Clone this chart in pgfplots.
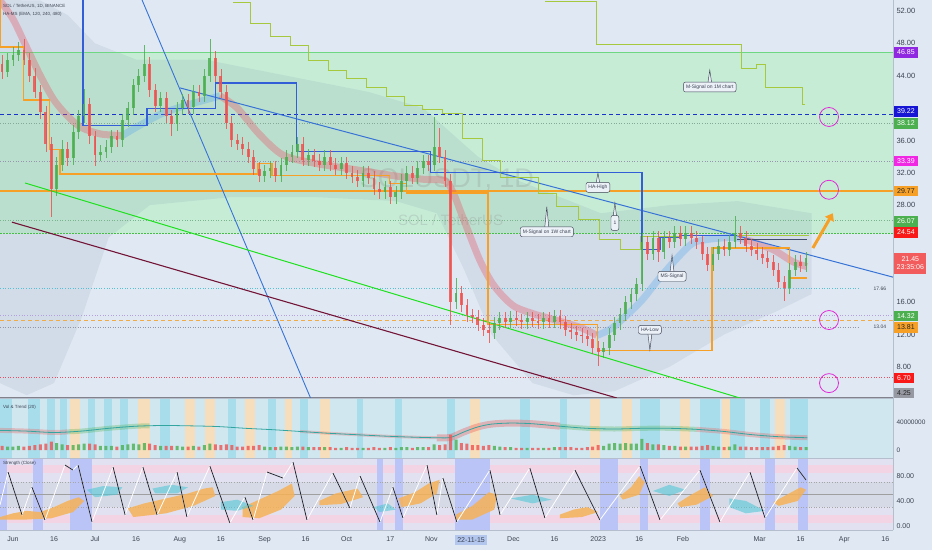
\documentclass[border=0pt]{standalone}
\usepackage{fontspec}
\setmainfont{Liberation Sans}
\usepackage{pgfplots}
\pgfplotsset{compat=1.18}
\usepackage{pgfplotstable}
\usetikzlibrary{arrows.meta}

\newcommand\fs[1]{\fontsize{#1}{#1}\selectfont}

\definecolor{bg}{RGB}{224,233,243}
\definecolor{zone}{RGB}{198,236,214}
\definecolor{cloud}{RGB}{110,130,155}
\definecolor{upc}{RGB}{76,175,80}
\definecolor{dnc}{RGB}{239,83,80}
\definecolor{hablue}{RGB}{50,95,215}
\definecolor{haor}{RGB}{246,160,40}
\definecolor{olive}{RGB}{165,200,60}
\definecolor{tline}{RGB}{55,115,215}
\definecolor{gline}{RGB}{30,225,30}
\definecolor{mline}{RGB}{115,20,55}
\definecolor{emared}{RGB}{232,85,100}
\definecolor{emablue}{RGB}{95,170,235}
\definecolor{lab}{RGB}{60,66,82}
\definecolor{sep}{RGB}{180,190,205}
\definecolor{cbg}{RGB}{236,241,247}
\definecolor{volbg}{RGB}{208,231,240}
\definecolor{volcy}{RGB}{168,222,236}
\definecolor{volor}{RGB}{246,222,188}
\definecolor{stbg}{RGB}{226,225,241}
\definecolor{stpink}{RGB}{242,212,228}
\definecolor{stmid}{RGB}{214,218,231}
\definecolor{stblue}{RGB}{186,196,246}
\definecolor{sor}{RGB}{245,178,88}
\definecolor{scy}{RGB}{85,200,215}
\definecolor{hl}{RGB}{178,198,238}
\definecolor{pmag}{RGB}{225,40,215}

% day (0 = 2022-06-01), open, high, low, close, volume (millions)
\pgfplotstableread{
d o h l c v
-4 45.5 46.6 43.6 44.5 6
-2 44.5 46.8 43.8 46.0 5
0 46.0 47.6 45.2 46.5 5
2 46.5 48.2 45.8 47.2 6
4 47.2 48.5 45.3 46.0 5
6 46.0 46.8 43.2 44.0 6
8 44.0 44.9 41.2 42.0 7
10 42.0 42.8 38.6 39.5 8
12 39.5 40.3 34.6 35.5 9
14 35.5 36.4 26.5 30.0 12
16 30.0 33.9 29.1 33.0 10
18 33.0 36.0 32.2 35.0 8
20 35.0 35.8 32.9 33.8 7
22 33.8 37.9 33.0 37.0 7
24 37.0 39.8 36.2 39.0 8
26 39.0 42.3 38.2 40.5 9
28 40.5 41.3 35.6 36.5 9
30 36.5 37.2 32.8 34.2 8
32 34.2 35.4 33.4 34.6 6
34 34.6 36.0 33.8 35.2 6
36 35.2 37.3 34.4 36.5 6
38 36.5 37.3 35.2 36.0 5
40 36.0 39.3 35.2 38.5 7
42 38.5 40.8 37.7 40.0 8
44 40.0 43.6 39.2 42.8 9
46 42.8 44.8 42.0 44.0 8
48 44.0 47.8 43.2 45.5 10
50 45.5 46.3 41.4 42.2 9
52 42.2 43.0 39.5 40.3 7
54 40.3 42.0 39.5 41.2 6
56 41.2 42.0 38.2 39.0 6
58 39.0 39.8 36.6 38.0 6
60 38.0 40.8 37.2 40.0 6
62 40.0 41.8 39.2 41.0 5
64 41.0 41.8 39.3 40.1 5
66 40.1 42.8 39.3 42.0 6
68 42.0 42.8 40.7 41.5 5
70 41.5 44.8 40.7 44.0 7
72 44.0 48.6 43.2 46.2 9
74 46.2 47.0 43.2 44.0 8
76 44.0 44.8 41.2 42.0 7
78 42.0 42.8 37.4 38.2 8
80 38.2 39.0 35.2 36.0 7
82 36.0 36.8 34.8 35.6 5
84 35.6 36.4 34.2 35.0 5
86 35.0 35.8 33.2 34.0 6
88 34.0 34.8 31.7 32.5 6
90 32.5 33.3 30.8 31.6 7
92 31.6 33.0 30.8 32.2 5
94 32.2 33.4 31.4 32.6 4
96 32.6 33.4 30.8 31.6 4
98 31.6 33.8 30.8 33.0 5
100 33.0 34.8 32.2 34.0 5
102 34.0 35.4 33.2 34.6 4
104 34.6 36.4 33.8 35.6 5
106 35.6 36.4 32.8 33.6 5
108 33.6 35.0 32.8 34.2 4
110 34.2 35.0 32.7 33.5 4
112 33.5 34.3 32.2 33.0 4
114 33.0 34.8 32.2 34.0 4
116 34.0 34.8 32.2 33.0 4
118 33.0 33.8 31.7 32.5 3
120 32.5 34.0 31.7 33.2 3
122 33.2 34.0 31.2 32.0 4
124 32.0 32.8 30.7 31.5 3
126 31.5 32.3 30.2 31.0 3
128 31.0 32.8 30.2 32.0 3
130 32.0 32.8 30.6 31.4 3
132 31.4 32.2 29.2 30.0 4
134 30.0 30.8 28.8 29.6 3
136 29.6 31.0 28.8 30.2 3
138 30.2 31.0 28.2 29.0 4
140 29.0 30.4 28.2 29.6 3
142 29.6 31.8 28.8 31.0 4
144 31.0 32.8 30.2 32.0 4
146 32.0 32.8 30.6 31.4 3
148 31.4 33.4 30.6 32.6 4
150 32.6 34.2 31.8 33.4 4
152 33.4 34.2 32.2 33.0 4
154 33.0 38.9 32.2 35.2 8
156 35.2 37.5 33.2 34.0 7
158 34.0 34.8 30.2 31.0 8
160 31.0 31.8 13.2 16.0 22
162 16.0 19.0 15.2 17.2 15
164 17.2 18.0 14.8 15.6 10
166 15.6 16.4 13.6 14.4 9
168 14.4 15.2 13.4 14.2 7
170 14.2 15.0 12.4 13.2 7
172 13.2 14.0 11.8 12.6 6
174 12.6 13.4 11.0 12.2 7
176 12.2 14.2 11.4 13.4 6
178 13.4 14.8 12.6 14.0 5
180 14.0 14.8 12.8 13.6 4
182 13.6 14.9 12.8 14.1 4
184 14.1 14.9 13.0 13.8 3
186 13.8 14.6 12.7 13.5 3
188 13.5 14.8 12.7 14.0 3
190 14.0 14.8 12.9 13.7 3
192 13.7 14.5 12.7 13.5 3
194 13.5 14.8 12.7 14.0 3
196 14.0 14.8 12.8 13.6 3
198 13.6 15.1 12.8 14.3 4
200 14.3 15.1 12.7 13.5 4
202 13.5 14.3 11.8 12.6 4
204 12.6 13.4 11.5 12.3 4
206 12.3 13.1 11.2 12.0 3
208 12.0 12.8 11.0 11.8 3
210 11.8 12.6 10.6 11.4 4
212 11.4 12.2 9.6 10.4 5
214 10.4 11.2 8.1 9.9 7
216 9.9 11.1 9.1 10.3 6
218 10.3 12.8 9.5 12.0 9
220 12.0 14.2 11.2 13.4 10
222 13.4 15.3 12.6 14.5 9
224 14.5 16.8 13.7 16.0 10
226 16.0 17.8 15.2 17.0 9
228 17.0 19.0 16.2 18.2 9
230 18.2 24.5 17.4 23.4 16
232 23.4 24.2 21.2 22.0 10
234 22.0 24.8 21.2 24.0 8
236 24.0 24.8 21.0 22.2 8
238 22.2 24.8 21.4 24.0 7
240 24.0 24.8 22.7 23.5 6
242 23.5 25.4 22.7 24.6 6
244 24.6 25.4 23.0 23.8 5
246 23.8 25.4 23.0 24.6 5
248 24.6 25.4 23.2 24.0 5
250 24.0 24.8 22.6 23.4 5
252 23.4 24.2 21.2 22.0 6
254 22.0 22.8 19.8 20.6 7
256 20.6 22.8 19.8 22.0 6
258 22.0 23.8 21.2 23.0 5
260 23.0 23.8 21.7 22.5 4
262 22.5 24.3 21.7 23.5 5
264 23.5 26.6 22.7 24.6 8
266 24.6 25.4 23.2 24.0 5
268 24.0 24.8 22.2 23.0 5
270 23.0 23.8 21.7 22.5 4
272 22.5 23.3 21.2 22.0 4
274 22.0 22.8 20.7 21.5 4
276 21.5 22.3 20.2 21.0 4
278 21.0 21.8 19.2 20.0 5
280 20.0 20.8 17.7 18.5 6
282 18.5 19.3 16.2 17.8 7
284 17.8 20.8 17.0 20.0 6
286 20.0 21.8 19.2 21.0 5
288 21.0 21.8 19.7 20.5 4
290 20.5 22.2 19.7 21.45 4
}\candles

% vertical band between two days, from #4 to #5 on the y axis
\newcommand\vband[5]{\addplot[fill=#3, draw=none, forget plot] coordinates {(#1,#4) (#1,#5) (#2,#5) (#2,#4)} -- cycle;}
\newcommand\vbv[3]{\vband{#1}{#2}{#3}{-11.43}{74.29}}
\newcommand\vbs[3]{\vband{#1}{#2}{#3}{-6.9}{109.2}}
\newcommand\hlev[2]{\addplot[#2, forget plot] coordinates {(-4.75,#1) (321.8,#1)};}
\newcommand\callout[4]{%
  \filldraw[fill=cbg, draw=lab, line width=0.45pt] ([xshift=-2.5pt]axis cs:#1,#2) -- (axis cs:#1,#3) -- ([xshift=2.5pt]axis cs:#1,#2) -- cycle;
  \node[draw=lab, fill=cbg, rounded corners=2pt, line width=0.45pt, font=\fs{5}, text=lab, inner xsep=2.5pt, inner ysep=2.6pt] at (axis cs:#1,#2) {#4};}

\tikzset{pbox/.style={anchor=west, xshift=1pt, font=\fs{7}, inner xsep=3pt, inner ysep=0pt, minimum height=10.5pt, text=white}}

\begin{document}
\begin{tikzpicture}[x=1pt,y=1pt]
\fill[bg] (0,0) rectangle (932,550);

%%%%% price panel
\begin{axis}[at={(0pt,152pt)}, anchor=south west, scale only axis, width=893pt, height=398pt,
  xmin=-4.75, xmax=321.8, ymin=4.16, ymax=53.36, clip mode=individual,
  axis x line=none, axis y line*=right, y axis line style={draw=sep},
  ytick={8,12,16,28,32,36,44,48,52}, major tick length=0pt,
  yticklabel style={font=\fs{7.5}, text=lab, /pgf/number format/fixed, /pgf/number format/fixed zerofill, /pgf/number format/precision=2, /pgf/number format/assume math mode=true}]

\addplot[fill=zone, draw=none, forget plot] coordinates {(-4.75,24.54) (-4.75,46.85) (321.8,46.85) (321.8,24.54)} -- cycle;

% envelope cloud (upper edge left to right, lower edge back)
\addplot[fill=cloud, fill opacity=0.12, draw=none, forget plot] coordinates {(-4.75,53.36) (10,53.3) (20,51.5) (30,48) (45,46) (70,46) (100,44) (130,42) (150,40) (160,37) (170,34) (185,31) (200,29) (215,27) (240,28) (265,28.5) (292,27)
 (292,17) (280,15) (260,12) (240,8) (220,5) (205,4.5) (190,6) (175,12) (165,20) (155,27) (140,28.5) (110,29) (80,29) (50,28) (35,24) (25,14) (15,6) (5,4.5) (-4.75,6)} -- cycle;

\node[font=\fs{27}, text=gray, opacity=0.22] at (axis cs:158.7,31.1) {SOLUSDT, 1D};
\node[font=\fs{15}, text=gray, opacity=0.22] at (axis cs:160,26.2) {SOL / TetherUS};

% horizontal levels
\hlev{46.85}{draw={rgb,255:red,110;green,215;blue,130}, line width=0.8pt}
\hlev{39.22}{draw={rgb,255:red,25;green,50;blue,200}, line width=1.1pt, dash pattern=on 4pt off 3pt}
\hlev{38.12}{draw={rgb,255:red,130;green,170;blue,150}, line width=0.6pt, dotted}
\hlev{33.39}{draw={rgb,255:red,150;green,150;blue,175}, line width=0.6pt, dotted}
\hlev{29.77}{draw=haor, line width=1.4pt}
\hlev{26.07}{draw={rgb,255:red,120;green,180;blue,140}, line width=0.6pt, dotted}
\hlev{24.54}{draw={rgb,255:red,70;green,190;blue,70}, line width=1pt, dash pattern=on 1.5pt off 1.5pt}
\hlev{14.32}{draw={rgb,255:red,180;green,160;blue,220}, line width=0.7pt, dotted}
\hlev{13.81}{draw={rgb,255:red,240;green,170;blue,70}, line width=0.8pt, dash pattern=on 4pt off 3pt}
\hlev{6.70}{draw={rgb,255:red,230;green,80;blue,100}, line width=0.6pt, dotted}
\hlev{4.25}{draw={rgb,255:red,130;green,130;blue,140}, line width=0.8pt}
\addplot[draw={rgb,255:red,90;green,190;blue,210}, line width=0.6pt, dotted, forget plot] coordinates {(-4.75,17.66) (309.7,17.66)};
\addplot[draw={rgb,255:red,150;green,150;blue,165}, line width=0.5pt, dotted, forget plot] coordinates {(-4.75,12.94) (309.7,12.94)};
\node[font=\fs{5}, text=lab] at (axis cs:317,17.64) {17.66};
\node[font=\fs{5}, text=lab] at (axis cs:317,12.94) {13.04};

% EMA band
\addplot[emared, line width=7pt, opacity=0.35, smooth, forget plot] coordinates {(-4.75,53.3) (0,51) (5,47.5) (10,44) (15,41) (20,39) (25,37.6) (32,36.8) (40,36.6)};
\addplot[emablue, line width=7pt, opacity=0.35, smooth, forget plot] coordinates {(40,36.6) (46,37.8) (55,39.4) (65,40.5) (75.7,41.5)};
\addplot[emared, line width=7pt, opacity=0.35, smooth, forget plot] coordinates {(75.7,41.5) (82,40) (90,36.8) (98.7,34.2) (110,33.2) (125,32.4) (140,31.6) (150,31.2) (158,31.0) (161,29.5) (164.5,26.5) (170.7,21.2) (176,18) (182.8,15.6) (190,14.6) (195.2,14.1) (207.3,12.9) (213.5,11.9)};
\addplot[emablue, line width=7pt, opacity=0.35, smooth, forget plot] coordinates {(213.5,11.9) (219.4,12.9) (229.3,16.0) (236,18.8) (243,21.5) (248.6,23.3) (254.8,23.8) (263.3,24.0) (268.4,23.7)};
\addplot[emared, line width=7pt, opacity=0.35, smooth, forget plot] coordinates {(268.4,23.7) (277.9,22.5) (285.2,21.0) (290.3,20.4)};

% trend lines
\addplot[tline, line width=0.9pt, forget plot] coordinates {(47.2,53.36) (108.8,4.16)};
\addplot[tline, line width=1pt, forget plot] coordinates {(61,42.5) (321.8,19.1)};
\addplot[gline, line width=1pt, forget plot] coordinates {(4.4,30.74) (265.8,4.16)};
\addplot[mline, line width=1.1pt, forget plot] coordinates {(-0.4,25.9) (220.8,4.16)};

% M-Signal step lines
\addplot[olive, line width=0.9pt, const plot, forget plot] coordinates {(80.4,53) (86.7,50.5) (94,48.8) (101.3,47.8) (107.9,45.9) (115.2,44.7) (122.1,43.7) (129.4,42.6) (136.7,41.4) (143.3,40.3) (149.9,39.8) (157.2,39.3) (164.2,36.3) (171.5,33.5) (178.1,31.4) (192,29.4) (198.9,27.8) (206.6,26.2) (214.6,23.7) (222,22.5) (229.3,24.1) (243.9,24.2) (291,24.2)};
\addplot[olive, line width=0.9pt, const plot, forget plot] coordinates {(194.5,53.24) (213.5,47.9) (266.5,44.95) (272,45.45) (275,42.5) (288.8,40.4) (289.6,40.4)};

% HA-High / HA-Low
\addplot[hablue, line width=1.1pt, const plot, forget plot] coordinates {(25.5,53.36) (25.6,37.9) (49,39.9) (73.9,43.1) (103.8,34.6) (152.8,32) (230,22.5) (236.6,24) (243.9,24.3) (264.7,24.3)};
\addplot[draw={rgb,255:red,70;green,80;blue,110}, line width=1pt, forget plot] coordinates {(264.7,23.7) (290.3,23.7)};
\addplot[haor, line width=1.1pt, const plot, forget plot] coordinates {(-4.6,53.36) (-4.5,47.55) (3.7,41) (13.2,34.9) (17.2,31.85) (89.6,33.1) (94.7,31.7) (137.8,30.7) (144,29.5) (173.7,13.2) (213.9,10) (255.6,22.7) (284,19) (290.3,19)};

% candles: wicks then bodies (drawn as error bars only)
\addplot[draw=none, mark=none, forget plot, restrict expr to domain={\thisrow{c}-\thisrow{o}}{0:100},
  error bars/.cd, y dir=both, y explicit, error mark=none, error bar style={draw=upc, solid, line width=0.6pt, opacity=0.85}]
  table[x=d, y expr={(\thisrow{h}+\thisrow{l})/2}, y error expr={(\thisrow{h}-\thisrow{l})/2}]{\candles};
\addplot[draw=none, mark=none, forget plot, restrict expr to domain={\thisrow{c}-\thisrow{o}}{-100:-0.001},
  error bars/.cd, y dir=both, y explicit, error mark=none, error bar style={draw=dnc, solid, line width=0.6pt, opacity=0.85}]
  table[x=d, y expr={(\thisrow{h}+\thisrow{l})/2}, y error expr={(\thisrow{h}-\thisrow{l})/2}]{\candles};
\addplot[draw=none, mark=none, forget plot, restrict expr to domain={\thisrow{c}-\thisrow{o}}{0:100},
  error bars/.cd, y dir=both, y explicit, error mark=none, error bar style={draw=upc, solid, line width=2.8pt, opacity=0.85}]
  table[x=d, y expr={(\thisrow{o}+\thisrow{c})/2}, y error expr={abs(\thisrow{c}-\thisrow{o})/2}]{\candles};
\addplot[draw=none, mark=none, forget plot, restrict expr to domain={\thisrow{c}-\thisrow{o}}{-100:-0.001},
  error bars/.cd, y dir=both, y explicit, error mark=none, error bar style={draw=dnc, solid, line width=2.8pt, opacity=0.85}]
  table[x=d, y expr={(\thisrow{o}+\thisrow{c})/2}, y error expr={abs(\thisrow{c}-\thisrow{o})/2}]{\candles};

% target circles and arrow
\addplot[only marks, mark=o, mark size=9.5pt, color=pmag, mark options={line width=0.8pt}, forget plot] coordinates {(298.4,38.9) (298.4,29.9) (298.4,13.8) (298.4,6.0)};
\addplot[haor, line width=3pt, -{Triangle[length=7pt,width=10pt]}, forget plot] coordinates {(292.5,22.7) (299.8,27.0)};

% callouts
\callout{254.8}{42.6}{44.7}{M-Signal on 1M chart}
\callout{213.9}{30.2}{32.0}{HA-High}
\callout{195.2}{24.7}{27.8}{M-Signal on 1W chart}
\callout{241}{19.2}{21.8}{MS-Signal}
\callout{232.9}{12.6}{10.1}{HA-Low}
\filldraw[fill=cbg, draw=lab, line width=0.45pt] ([xshift=-2.5pt]axis cs:220.1,25.8) -- (axis cs:220.1,28.3) -- ([xshift=2.5pt]axis cs:220.1,25.8) -- cycle;
\node[draw=lab, fill=cbg, rounded corners=2pt, line width=0.45pt, font=\fs{5}, text=lab, minimum height=15pt, inner xsep=2.5pt] at (axis cs:220.1,25.8) {1};

\node[anchor=north west, font=\fs{4.5}, text=lab, inner sep=0pt] at ([xshift=3pt,yshift=-4pt]rel axis cs:0,1) {SOL / TetherUS, 1D, BINANCE};
\node[anchor=north west, font=\fs{4.5}, text=lab, inner sep=0pt] at ([xshift=3pt,yshift=-12pt]rel axis cs:0,1) {HA-MS (EMA, 120, 240, 480)};

\coordinate (b1) at (axis cs:321.8,46.87);
\coordinate (b2) at (axis cs:321.8,39.58);
\coordinate (b3) at (axis cs:321.8,38.09);
\coordinate (b4) at (axis cs:321.8,33.46);
\coordinate (b5) at (axis cs:321.8,29.75);
\coordinate (b6) at (axis cs:321.8,25.98);
\coordinate (b7) at (axis cs:321.8,24.62);
\coordinate (b8) at (axis cs:321.8,20.79);
\coordinate (b9) at (axis cs:321.8,14.30);
\coordinate (b10) at (axis cs:321.8,12.88);
\coordinate (b11) at (axis cs:321.8,6.64);
\coordinate (b12) at (axis cs:321.8,4.78);
\end{axis}

\node[pbox, fill={rgb,255:red,145;green,40;blue,225}] at (b1) {46.85};
\node[pbox, fill={rgb,255:red,22;green,22;blue,212}] at (b2) {39.22};
\node[pbox, fill=upc] at (b3) {38.12};
\node[pbox, fill={rgb,255:red,240;green,40;blue,228}] at (b4) {33.39};
\node[pbox, fill=haor, text=black!85] at (b5) {29.77};
\node[pbox, fill=upc] at (b6) {26.07};
\node[pbox, fill={rgb,255:red,250;green,25;blue,25}] at (b7) {24.54};
\node[pbox, fill={rgb,255:red,242;green,92;blue,92}, align=center, minimum height=21pt, inner xsep=2.5pt] at (b8) {21.45\\[1pt]23:35:06};
\node[pbox, fill=upc] at (b9) {14.32};
\node[pbox, fill=haor, text=black!85] at (b10) {13.81};
\node[pbox, fill={rgb,255:red,250;green,25;blue,25}] at (b11) {6.70};
\node[pbox, fill={rgb,255:red,150;green,152;blue,162}, text=black!85] at (b12) {4.25};

%%%%% volume panel
\begin{axis}[at={(0pt,92pt)}, anchor=south west, scale only axis, width=893pt, height=60pt,
  xmin=-4.75, xmax=321.8, ymin=-11.43, ymax=74.29, clip mode=individual,
  axis x line=none, axis y line*=right, y axis line style={draw=sep},
  ytick={0,40}, yticklabels={0,40000000}, major tick length=0pt,
  yticklabel style={font=\fs{6.5}, text=lab}]
\vbv{-4.75}{321.8}{volbg}
\vbv{-4.75}{-0.4}{volcy}\vbv{5.5}{9.9}{volcy}\vbv{12.4}{15.4}{volcy}\vbv{17.2}{19.7}{volcy}
\vbv{27.4}{30}{volcy}\vbv{33.3}{36.2}{volcy}\vbv{39.1}{42}{volcy}\vbv{53.7}{57.4}{volcy}
\vbv{78.6}{81.5}{volcy}\vbv{93.2}{96.2}{volcy}\vbv{104.9}{107.9}{volcy}\vbv{125.8}{128}{volcy}
\vbv{139.7}{142.2}{volcy}\vbv{158.7}{161.6}{volcy}\vbv{185.4}{189}{volcy}\vbv{200}{202.6}{volcy}
\vbv{229.3}{236.6}{volcy}\vbv{251.2}{258.5}{volcy}\vbv{262.2}{267.6}{volcy}\vbv{273.1}{276.8}{volcy}
\vbv{284.1}{290.7}{volcy}
\vbv{20.8}{24.5}{volor}\vbv{45.7}{50.1}{volor}\vbv{62.9}{66.5}{volor}\vbv{70.2}{73.9}{volor}
\vbv{84.8}{88.5}{volor}\vbv{99.5}{102}{volor}\vbv{112.2}{115.9}{volor}\vbv{167.1}{170.7}{volor}
\vbv{211}{214.6}{volor}\vbv{222.7}{226.3}{volor}\vbv{243.9}{247.5}{volor}\vbv{259.2}{262.2}{volor}
\vbv{278.6}{282.3}{volor}
\node[anchor=north west, font=\fs{4.5}, text=lab, inner sep=0pt] at ([xshift=3pt,yshift=-7pt]rel axis cs:0,1) {Vol \& Trend (20)};
% trend band
\addplot[dnc, line width=5pt, opacity=0.3, smooth, forget plot] coordinates {(-4.75,28) (5,27) (15,25) (20,26)};
\addplot[upc, line width=5pt, opacity=0.3, smooth, forget plot] coordinates {(20,26) (25,27) (35,31) (45,34) (50,34.5)};
\addplot[dnc, line width=3pt, opacity=0.25, smooth, forget plot] coordinates {(105,26.5) (115,24) (125,22) (135,20) (145,18.5) (155,17.5)};
\addplot[dnc, line width=7pt, opacity=0.35, smooth, forget plot] coordinates {(155,17.5) (160,18) (165,26) (170,33) (175,37) (182,38.5) (190,37.5) (200,34)};
\addplot[upc, line width=5pt, opacity=0.3, smooth, forget plot] coordinates {(200,34) (210,31) (220,30) (230,31) (240,31) (250,29.5)};
\addplot[dnc, line width=5pt, opacity=0.3, smooth, forget plot] coordinates {(250,29.5) (260,26.5) (270,22) (280,19) (290.5,17.5)};
\addplot[draw={rgb,255:red,50;green,165;blue,160}, line width=0.8pt, smooth, forget plot] coordinates {(-4.75,28) (5,27) (15,25) (25,27) (35,31) (45,34) (55,35) (65,34.5) (75,33.5) (85,31) (95,29) (105,26.5) (115,24) (125,22) (135,20) (145,18.5) (155,17.5) (160,18) (165,26) (170,33) (175,37) (182,38.5) (190,37.5) (200,34) (210,31) (220,30) (230,31) (240,31) (250,29.5) (260,26.5) (270,22) (280,19) (290.5,17.5)};
% volume bars
\addplot[ybar, bar width=3pt, bar shift=0pt, fill=upc, draw=none, fill opacity=0.8, forget plot, restrict expr to domain={\thisrow{c}-\thisrow{o}}{0:100}] table[x=d, y=v]{\candles};
\addplot[ybar, bar width=3pt, bar shift=0pt, fill=dnc, draw=none, fill opacity=0.8, forget plot, restrict expr to domain={\thisrow{c}-\thisrow{o}}{-100:-0.001}] table[x=d, y=v]{\candles};
\end{axis}

%%%%% strength panel
\begin{axis}[at={(0pt,20pt)}, anchor=south west, scale only axis, width=893pt, height=72pt,
  xmin=-4.75, xmax=321.8, ymin=-6.9, ymax=109.2, clip mode=individual,
  axis x line*=bottom, axis y line*=right, axis line style={draw=sep},
  xtick={0,15,30,45,61,76,92,107,122,138,153,183,198,214,229,245,273,288,304,319},
  xticklabels={Jun,16,Jul,16,Aug,16,Sep,16,Oct,17,Nov,Dec,16,2023,16,Feb,Mar,16,Apr,16},
  ytick={0,40,80}, major tick length=0pt,
  xticklabel style={font=\fs{7}, text=lab, yshift=-3pt},
  yticklabel style={font=\fs{7}, text=lab, /pgf/number format/fixed, /pgf/number format/fixed zerofill, /pgf/number format/precision=2, /pgf/number format/assume math mode=true}]
\vbs{-4.75}{321.8}{stbg}
\addplot[fill=stpink, draw=none, forget plot] coordinates {(-4.75,85) (-4.75,98) (321.8,98) (321.8,85)} -- cycle;
\addplot[fill=stpink, draw=none, forget plot] coordinates {(-4.75,4) (-4.75,17) (321.8,17) (321.8,4)} -- cycle;
\addplot[fill=stmid, draw=none, forget plot] coordinates {(-4.75,30) (-4.75,70) (321.8,70) (321.8,30)} -- cycle;
\vbs{-4.75}{-2.2}{stblue}\vbs{7.3}{11}{stblue}\vbs{20.8}{28.9}{stblue}\vbs{133.1}{135.3}{stblue}
\vbs{139.7}{142.6}{stblue}\vbs{161.6}{174.4}{stblue}\vbs{214.6}{221.2}{stblue}\vbs{229.3}{232.2}{stblue}
\vbs{251.2}{254.8}{stblue}\vbs{275}{278.6}{stblue}\vbs{287}{290.7}{stblue}
\addplot[draw=gray!70, dotted, line width=0.6pt, forget plot] coordinates {(-4.75,70) (321.8,70)};
\addplot[draw=gray!70, dotted, line width=0.6pt, forget plot] coordinates {(-4.75,30) (321.8,30)};
\addplot[draw=gray!75, line width=0.6pt, forget plot] coordinates {(-4.75,50) (321.8,50)};
\node[anchor=north west, font=\fs{4.5}, text=lab, inner sep=0pt] at ([xshift=3pt,yshift=-3pt]rel axis cs:0,1) {Strength (Close)};
% orange / cyan areas
\addplot[fill=sor, draw=none, fill opacity=0.85, forget plot] coordinates {(-4.7,14) (0,20) (5,24) (10,22) (15,30) (20,40) (24,46) (26,40) (22,22) (14,12) (5,10) (-4.7,10)} -- cycle;
\addplot[fill=sor, draw=none, fill opacity=0.85, forget plot] coordinates {(42,28) (48,36) (56,44) (64,52) (70,60) (73,62) (74,48) (66,32) (56,20) (44,14)} -- cycle;
\addplot[fill=sor, draw=none, fill opacity=0.85, forget plot] coordinates {(84,30) (90,42) (97,56) (102,68) (103,48) (98,26) (90,12) (84,14)} -- cycle;
\addplot[fill=sor, draw=none, fill opacity=0.85, forget plot] coordinates {(112,40) (118,52) (126,60) (128,46) (120,35) (112,33)} -- cycle;
\addplot[fill=sor, draw=none, fill opacity=0.85, forget plot] coordinates {(141,44) (147,54) (152,68) (156,74) (155,52) (149,36) (142,30)} -- cycle;
\addplot[fill=sor, draw=none, fill opacity=0.85, forget plot] coordinates {(162,18) (168,32) (174,54) (177,50) (176,26) (168,10) (162,10)} -- cycle;
\addplot[fill=sor, draw=none, fill opacity=0.85, forget plot] coordinates {(200,18) (205,26) (210,30) (214,22) (208,14) (200,12)} -- cycle;
\addplot[fill=sor, draw=none, fill opacity=0.85, forget plot] coordinates {(222,48) (226,62) (229,80) (231,70) (229,50) (223,42)} -- cycle;
\addplot[fill=sor, draw=none, fill opacity=0.85, forget plot] coordinates {(243,36) (248,50) (253,62) (256,48) (250,34) (244,30)} -- cycle;
\addplot[fill=sor, draw=none, fill opacity=0.85, forget plot] coordinates {(278,38) (283,50) (288,62) (290,58) (287,40) (280,32)} -- cycle;
\addplot[fill=scy, draw=none, fill opacity=0.6, forget plot] coordinates {(27,58) (33,64) (40,62) (38,50) (30,46)} -- cycle;
\addplot[fill=scy, draw=none, fill opacity=0.6, forget plot] coordinates {(51,60) (58,66) (64,62) (60,52) (52,52)} -- cycle;
\addplot[fill=scy, draw=none, fill opacity=0.6, forget plot] coordinates {(76,38) (82,42) (88,32) (82,24) (76,26)} -- cycle;
\addplot[fill=scy, draw=none, fill opacity=0.6, forget plot] coordinates {(132,30) (137,36) (140,26) (134,22)} -- cycle;
\addplot[fill=scy, draw=none, fill opacity=0.6, forget plot] coordinates {(182,44) (190,50) (197,42) (190,36)} -- cycle;
\addplot[fill=scy, draw=none, fill opacity=0.6, forget plot] coordinates {(234,56) (240,66) (246,58) (240,48)} -- cycle;
\addplot[fill=scy, draw=none, fill opacity=0.6, forget plot] coordinates {(262,44) (268,40) (275,24) (268,20) (262,30)} -- cycle;
% oscillator: white rising, black falling
\addplot[white, line width=0.8pt, forget plot] coordinates {(-4.75,33.4) (-1.8,86.6) (3.3,17.3) (6.9,62.4) (11.7,9.2) (19,97.9) (21.9,89.8) (23.8,97.9) (28.9,6) (36.6,94.7) (41,17.3) (47.5,94.7) (52.7,17.3) (60,86.6) (63.6,14) (72,96.3) (79.3,4.4) (84.8,46.3) (87.8,9.2) (92.9,86.6) (98.7,76.9) (102.4,102.7) (107.5,9.2) (117,85) (123.2,28.5) (126.9,80.2) (134.2,6) (138.9,62.4) (142.6,12.4) (151.4,97.9) (155,17.3) (157.2,76.9) (162.3,6) (174.4,89.8) (178.1,17.3) (189,93.1) (194.5,12.4) (205.5,89.8) (214.6,9.2) (229.3,96.3) (236.6,9.2) (251.2,89.8) (258.5,6) (269.5,86.6) (275,12.4) (286.7,93.1) (290,73.7)};
\addplot[draw={rgb,255:red,35;green,38;blue,50}, line width=0.8pt, unbounded coords=jump, forget plot] coordinates {(-1.8,86.6) (3.3,17.3) (3.3,nan) (6.9,62.4) (11.7,9.2) (11.7,nan) (19,97.9) (21.9,89.8) (21.9,nan) (23.8,97.9) (28.9,6) (28.9,nan) (36.6,94.7) (41,17.3) (41,nan) (47.5,94.7) (52.7,17.3) (52.7,nan) (60,86.6) (63.6,14) (63.6,nan) (72,96.3) (79.3,4.4) (79.3,nan) (84.8,46.3) (87.8,9.2) (87.8,nan) (92.9,86.6) (98.7,76.9) (98.7,nan) (102.4,102.7) (107.5,9.2) (107.5,nan) (117,85) (123.2,28.5) (123.2,nan) (126.9,80.2) (134.2,6) (134.2,nan) (138.9,62.4) (142.6,12.4) (142.6,nan) (151.4,97.9) (155,17.3) (155,nan) (157.2,76.9) (162.3,6) (162.3,nan) (174.4,89.8) (178.1,17.3) (178.1,nan) (189,93.1) (194.5,12.4) (194.5,nan) (205.5,89.8) (214.6,9.2) (214.6,nan) (229.3,96.3) (236.6,9.2) (236.6,nan) (251.2,89.8) (258.5,6) (258.5,nan) (269.5,86.6) (275,12.4) (275,nan) (286.7,93.1) (290,73.7)};
\node[fill=hl, font=\fs{7}, text=lab, inner xsep=2pt, inner ysep=2.5pt] at ([yshift=-10pt]axis cs:167.5,-6.9) {22-11-15};
\end{axis}

\draw[sep, line width=0.5pt] (0,152) -- (893,152);
\draw[sep, line width=0.5pt] (0,92) -- (893,92);
\pgfresetboundingbox
\useasboundingbox (0,0) rectangle (932,550);
\end{tikzpicture}
\end{document}
